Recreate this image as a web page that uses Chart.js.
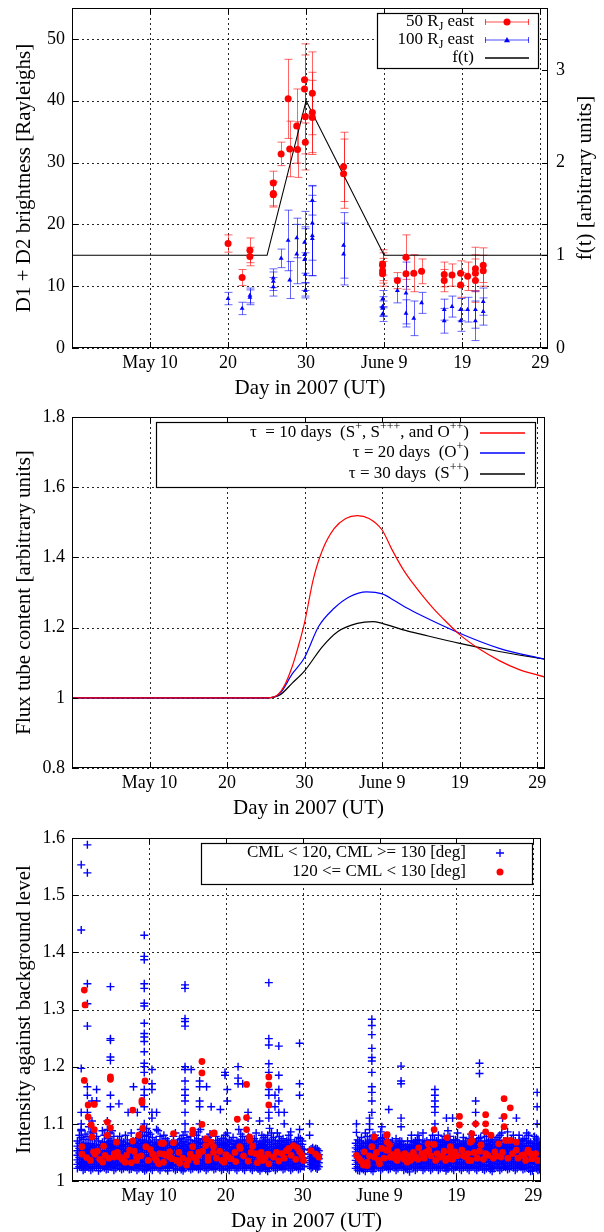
<!DOCTYPE html>
<html>
<head>
<meta charset="utf-8">
<script src="https://cdn.jsdelivr.net/npm/chart.js@4.4.1/dist/chart.umd.min.js"></script>
<style>
  body { margin: 0; background: #fff; }
  canvas { position: absolute; left: 0; }
</style>
</head>
<body>
<canvas id="c1" width="604" height="400" style="top:0px"></canvas>
<canvas id="c2" width="604" height="420" style="top:400px"></canvas>
<canvas id="c3" width="604" height="412" style="top:820px"></canvas>
<script>
// x axis: day of year 2007 (May 10 = 130)
const dayTicks = [130, 140, 150, 160, 170, 180];
const dayLabels = ['May 10', '20', '30', 'June 9', '19', '29'];

// ---- panel 1: D1 + D2 brightness ----
const red50X = [140.0, 141.8, 142.8, 142.8, 145.8, 145.8, 145.8, 146.8, 147.7, 147.9, 148.8, 148.9, 149.8, 149.8, 149.9, 149.9,
  150.8, 150.8, 150.8, 154.8, 154.8, 159.8, 159.8, 159.8, 159.8, 161.7, 162.8, 162.8, 163.8, 164.8, 167.7, 167.7, 168.7,
  169.8, 169.8, 170.7, 171.7, 171.7, 171.7, 172.7, 172.7];
const red50Y = [16.9, 11.4, 14.8, 15.8, 26.7, 25.0, 24.8, 31.4, 40.3, 32.2, 35.9, 32.1, 43.4, 41.9, 37.4, 33.3,
  41.2, 38.1, 37.3, 29.3, 28.2, 13.6, 13.4, 12.5, 12.0, 10.9, 14.7, 12.0, 12.1, 12.4, 11.9, 10.9, 11.8,
  12.1, 10.2, 11.6, 12.8, 12.1, 10.9, 13.4, 12.5];
const red50Err = [1.4, 1.3, 1.5, 2.0, 1.9, 2.0, 2.0, 1.9, 6.4, 4.5, 6.0, 4.5, 5.8, 5.5, 6.0, 4.5,
  6.7, 6.5, 6.0, 5.6, 5.6, 1.8, 2.5, 2.0, 2.0, 1.3, 3.6, 2.5, 3.0, 2.0, 2.0, 1.8, 1.8,
  2.0, 2.0, 2.3, 3.5, 3.0, 3.5, 2.8, 2.5];
const blue100X = [140.0, 141.8, 142.8, 142.8, 145.8, 145.8, 145.8, 146.8, 147.7, 147.9, 148.8, 148.8, 149.8, 149.8, 149.8, 149.9,
  149.9, 150.8, 150.8, 150.8, 150.8, 154.8, 154.8, 159.8, 159.8, 159.8, 159.8, 161.7, 162.8, 162.8, 163.8, 164.8, 167.7,
  167.7, 168.7, 169.8, 169.8, 170.7, 171.7, 171.7, 172.7, 172.7];
const blue100Y = [8.0, 6.4, 8.2, 8.5, 11.3, 10.8, 9.9, 14.5, 17.4, 11.0, 17.8, 15.2, 17.1, 15.1, 14.3, 11.9,
  9.3, 23.9, 20.2, 18.2, 17.7, 16.6, 15.2, 7.9, 6.7, 6.4, 5.5, 9.3, 8.9, 5.6, 4.8, 7.3, 6.2,
  4.4, 6.7, 6.2, 4.4, 6.2, 6.2, 4.4, 7.5, 5.9];
const blue100Err = [1.0, 1.0, 1.2, 1.2, 1.5, 1.5, 1.5, 1.5, 4.9, 3.0, 3.2, 4.8, 5.0, 4.5, 5.0, 3.5,
  1.2, 2.4, 6.0, 6.5, 6.0, 5.3, 5.0, 1.4, 1.6, 1.2, 1.2, 2.0, 5.0, 2.2, 2.8, 1.7, 1.7,
  2.0, 1.7, 1.8, 1.7, 2.0, 3.0, 3.2, 2.2, 2.2];
const fX = [120, 145, 150, 160, 181];
const fY = [1, 1, 2.667, 1, 1];
const brightTicks = [0, 10, 20, 30, 40, 50];
const fTicks = [0, 1, 2, 3];

// ---- panel 2: flux tube content ----
const tau10X = [120, 145.2, 146.5, 147.4, 148.4, 149.1, 150.0, 151.1, 152.3, 153.8, 155.3, 156.8, 158.3, 160.0, 161.2,
  162.7, 164.0, 165.2, 166.5, 167.7, 170.0, 172.6, 175.1, 177.6, 181];
const tau10Y = [1, 1, 1.008, 1.035, 1.089, 1.14, 1.215, 1.336, 1.421, 1.482, 1.511, 1.519, 1.511, 1.478, 1.425,
  1.366, 1.325, 1.291, 1.257, 1.229, 1.180, 1.138, 1.106, 1.081, 1.059];
const tau20X = [120, 145.2, 146.8, 148.4, 150.0, 151.8, 153.8, 155.8, 158.0, 160.0, 161.5, 163.0, 165.2, 170.0, 175.1, 181];
const tau20Y = [1, 1, 1.012, 1.068, 1.115, 1.203, 1.255, 1.288, 1.302, 1.296, 1.278, 1.258, 1.233, 1.184, 1.141, 1.110];
const tau30X = [120, 145.2, 146.8, 148.4, 150.0, 152.3, 154.3, 156.8, 158.8, 160.0, 161.5, 163.0, 165.2, 170.0, 175.1, 181];
const tau30Y = [1, 1, 1.008, 1.042, 1.077, 1.146, 1.189, 1.212, 1.217, 1.212, 1.202, 1.192, 1.180, 1.155, 1.132, 1.110];
const fluxTicks = [0.8, 1, 1.2, 1.4, 1.6, 1.8];

// ---- panel 3: intensity against background ----
// dense band readings: [day, values in thousandths above 1]
const blueBand = [
  [120.7, 22, 29, 37, 45, 53, 61, 70], [121.2, 24, 31, 38, 46, 54, 62, 76, 88], [121.7, 21, 28, 35, 43, 50, 58, 66, 82],
  [122.2, 23, 30, 37, 45, 53, 61, 72, 95], [122.7, 22, 29, 36, 44, 51, 59, 65, 84], [123.2, 25, 32, 39, 46, 54, 62, 78],
  [123.7, 22, 28, 35, 42, 49, 57, 64], [124.2, 23, 30, 38, 45, 53, 61, 68, 80], [124.7, 21, 29, 36, 43, 51, 58, 66, 74],
  [125.2, 24, 31, 38, 46, 53, 60, 70, 88], [125.7, 22, 30, 37, 44, 52, 59, 67], [126.2, 23, 29, 36, 43, 50, 58, 65, 78],
  [126.7, 22, 30, 37, 45, 52, 60, 68], [127.2, 24, 31, 38, 45, 53, 61, 72], [127.7, 21, 28, 36, 43, 51, 58, 66, 84],
  [128.2, 23, 30, 37, 44, 52, 59, 67], [128.7, 22, 29, 36, 44, 51, 59, 66, 76], [129.2, 21, 28, 35, 42, 50, 57, 65, 72, 86],
  [129.7, 20, 27, 34, 42, 50, 58, 66, 78, 92], [130.2, 22, 29, 37, 44, 52, 59, 67, 82], [130.7, 24, 31, 38, 45, 53, 60, 68],
  [131.2, 22, 30, 37, 44, 51, 59, 66, 88], [131.7, 23, 30, 38, 45, 53, 61, 70], [132.2, 22, 29, 36, 43, 51, 58, 65, 74],
  [132.7, 24, 31, 39, 46, 54, 62], [133.2, 22, 29, 37, 44, 52, 60, 68, 78], [133.7, 21, 28, 35, 43, 50, 58, 66],
  [134.2, 20, 27, 34, 42, 49, 57, 65, 74], [134.7, 22, 30, 37, 45, 52, 60, 68, 86], [135.2, 23, 30, 38, 45, 53, 61, 72],
  [135.7, 22, 29, 36, 44, 51, 59, 66], [136.2, 24, 31, 38, 46, 53, 61, 70, 80], [136.7, 22, 30, 37, 45, 52, 60, 67, 90],
  [137.2, 23, 30, 37, 44, 52, 59, 66], [137.7, 22, 29, 37, 44, 51, 59, 67, 76], [138.2, 24, 31, 38, 46, 53, 60],
  [138.7, 22, 30, 37, 44, 52, 59, 67, 78], [139.2, 23, 30, 38, 45, 53, 61, 68], [139.7, 21, 28, 36, 43, 51, 58, 66, 75],
  [140.2, 22, 30, 37, 45, 52, 60, 67, 84], [140.7, 24, 31, 38, 45, 53, 60, 70], [141.2, 22, 29, 37, 44, 52, 59, 66],
  [141.7, 23, 30, 38, 45, 53, 60, 68, 90], [142.2, 22, 29, 36, 44, 51, 59, 66, 78], [142.7, 24, 31, 39, 46, 53, 61, 72],
  [143.2, 22, 30, 37, 45, 52, 60, 67], [143.7, 23, 30, 37, 44, 52, 59, 74], [144.2, 21, 28, 35, 42, 50, 57, 64],
  [144.7, 22, 29, 37, 44, 52, 59, 66, 80], [145.2, 20, 27, 34, 42, 49, 57, 64, 72], [145.7, 22, 30, 37, 45, 52, 60, 68, 92],
  [146.2, 23, 30, 38, 45, 53, 61, 76], [146.7, 22, 29, 36, 44, 51, 59, 66, 84], [147.2, 24, 31, 38, 46, 53, 60, 70],
  [147.7, 22, 30, 37, 44, 52, 59, 67], [148.2, 23, 30, 38, 45, 53, 61, 68, 80], [148.7, 22, 29, 37, 44, 51, 59],
  [149.2, 24, 31, 38, 46, 53, 61, 69], [149.7, 22, 30, 37, 45, 52, 60, 74], [150.2, 25, 32, 40, 47, 55],
  [150.9, 26, 33, 40, 47, 54], [151.3, 24, 31, 38, 45, 52, 58], [151.7, 23, 30, 37, 44, 51, 57], [152.1, 25, 32, 39, 46, 53],
  [156.9, 22, 29, 36, 44, 51, 58, 66], [157.4, 18, 25, 32, 40, 47, 55, 62, 70], [157.9, 20, 27, 35, 42, 50, 57, 65],
  [158.4, 22, 29, 36, 44, 51, 59, 66, 78], [158.9, 20, 27, 34, 42, 49, 57, 64, 72], [159.4, 22, 30, 37, 45, 52, 60, 68, 80],
  [159.9, 23, 30, 38, 45, 53, 61, 70], [160.4, 22, 29, 36, 44, 51, 59, 66, 76], [160.9, 24, 31, 38, 46, 53, 60, 68],
  [161.4, 22, 30, 37, 44, 52, 59, 67], [161.9, 23, 30, 38, 45, 53, 61], [162.4, 22, 29, 37, 44, 51, 59, 66],
  [162.9, 24, 31, 38, 46, 53, 61, 69], [163.4, 22, 30, 37, 45, 52, 60], [163.9, 16, 23, 30, 37, 44, 52, 59],
  [164.4, 23, 30, 38, 45, 53, 60, 67], [164.9, 22, 29, 36, 44, 51, 59, 66, 72], [165.4, 24, 31, 38, 45, 53, 60],
  [165.9, 22, 30, 37, 45, 52, 60, 68], [166.4, 23, 30, 37, 44, 52, 59, 66], [166.9, 22, 29, 37, 44, 51, 59, 67, 80],
  [167.4, 24, 31, 38, 46, 53, 60, 70], [167.9, 22, 30, 37, 44, 52, 59, 67], [168.4, 23, 30, 38, 45, 53, 61, 68, 78],
  [168.9, 21, 28, 36, 43, 51, 58, 66, 88], [169.4, 22, 30, 37, 45, 52, 60, 67], [169.9, 24, 31, 38, 45, 53, 60, 72],
  [170.4, 22, 29, 37, 44, 52, 59, 66], [170.9, 23, 30, 38, 45, 53, 60, 68, 76], [171.4, 22, 29, 36, 44, 51, 59, 66],
  [171.9, 24, 31, 39, 46, 53, 61, 70, 82], [172.4, 22, 30, 37, 45, 52, 60, 67], [172.9, 23, 30, 37, 44, 52, 59, 66, 74],
  [173.4, 21, 28, 35, 42, 50, 57, 64], [173.9, 22, 29, 37, 44, 52, 59, 66, 78], [174.4, 20, 27, 34, 42, 49, 57, 64, 72],
  [174.9, 22, 30, 37, 45, 52, 60, 68], [175.4, 23, 30, 38, 45, 53, 61, 76], [175.9, 22, 29, 36, 44, 51, 59, 66, 84],
  [176.4, 24, 31, 38, 46, 53, 60, 70], [176.9, 22, 30, 37, 44, 52, 59, 67], [177.4, 23, 30, 38, 45, 53, 61, 68, 80],
  [177.9, 22, 29, 37, 44, 51, 59, 66], [178.4, 24, 31, 38, 46, 53, 61, 69], [178.9, 22, 30, 37, 45, 52, 60, 74],
  [179.4, 21, 28, 35, 43, 50, 58, 66, 80], [179.9, 18, 25, 32, 40, 47, 55, 62], [180.4, 22, 29, 36, 44, 51, 59, 66, 75],
  [180.8, 20, 27, 34, 42, 49, 57, 64]
];
// readings between the columns above
const blueBand2 = [
  [120.95, 25, 33, 41, 49, 57, 66, 80], [121.45, 19, 27, 34, 41, 49, 56, 63, 73], [121.95, 25, 32, 40, 47, 55, 63, 78],
  [122.45, 19, 26, 34, 41, 48, 56, 65, 86], [122.95, 25, 33, 40, 47, 55, 62, 74], [123.45, 18, 28, 35, 43, 50, 58, 70],
  [123.95, 25, 32, 39, 46, 53, 61, 68, 88], [124.45, 20, 27, 34, 42, 49, 57, 64], [124.95, 25, 32, 40, 47, 54, 62, 70, 84],
  [125.45, 19, 27, 35, 42, 49, 56, 64, 78], [125.95, 26, 33, 41, 48, 56, 63, 72], [126.45, 20, 27, 34, 41, 48, 55, 62, 70],
  [126.95, 25, 33, 40, 48, 56, 64, 80], [127.45, 20, 27, 35, 42, 49, 57, 65], [127.95, 24, 32, 39, 47, 54, 62, 70],
  [128.45, 19, 27, 34, 41, 48, 56, 63, 74], [128.95, 25, 33, 40, 47, 55, 62, 70, 90], [129.45, 18, 25, 32, 39, 46, 54, 61, 68, 80],
  [129.95, 24, 31, 38, 46, 54, 62, 70, 85], [130.45, 19, 26, 33, 41, 48, 56, 63, 76], [130.95, 26, 34, 41, 49, 56, 64, 72],
  [131.45, 19, 26, 34, 41, 48, 55, 63, 78], [131.95, 26, 34, 41, 49, 57, 66, 80], [132.45, 18, 25, 33, 40, 47, 54, 62, 70],
  [132.95, 27, 35, 42, 50, 58, 66], [133.45, 19, 26, 33, 40, 48, 56, 64, 84], [133.95, 25, 32, 39, 46, 54, 62, 72],
  [134.45, 18, 24, 31, 38, 46, 53, 61, 69, 80], [134.95, 26, 33, 41, 48, 56, 64, 76], [135.45, 20, 27, 34, 42, 49, 57, 65, 78],
  [135.95, 25, 33, 40, 48, 55, 62, 70], [136.45, 20, 27, 35, 42, 50, 57, 65, 74, 86], [136.95, 26, 33, 41, 48, 56, 64, 72],
  [137.45, 19, 26, 34, 41, 48, 56, 63, 70], [137.95, 25, 33, 40, 48, 55, 63, 72, 82], [138.45, 20, 28, 35, 42, 50, 57, 64],
  [138.95, 26, 33, 41, 48, 55, 63, 71], [139.45, 19, 26, 34, 42, 49, 57, 64, 74], [139.95, 25, 32, 39, 47, 54, 62, 70, 80],
  [140.45, 19, 26, 33, 41, 48, 56, 64, 72], [140.95, 27, 34, 42, 49, 56, 64, 76], [141.45, 19, 26, 33, 40, 48, 55, 62, 70],
  [141.95, 26, 34, 41, 49, 56, 64, 72, 82], [142.45, 19, 26, 33, 40, 48, 55, 62, 70], [142.95, 27, 35, 42, 50, 57, 65, 78],
  [143.45, 19, 26, 34, 41, 48, 56, 63, 70], [143.95, 26, 33, 41, 48, 55, 63, 70, 84], [144.45, 18, 25, 32, 39, 46, 53, 60, 68],
  [144.95, 25, 33, 40, 48, 55, 62, 70, 76], [145.45, 17, 24, 31, 38, 45, 53, 60, 68, 80], [145.95, 26, 34, 41, 48, 56, 64, 72, 84],
  [146.45, 19, 27, 34, 42, 49, 57, 65, 70], [146.95, 25, 33, 40, 47, 55, 62, 70, 78], [147.45, 20, 27, 35, 42, 50, 57, 64, 74],
  [147.95, 26, 33, 41, 48, 55, 63, 71], [148.45, 19, 27, 34, 42, 49, 57, 64, 72, 86], [148.95, 25, 33, 40, 48, 55, 62, 68],
  [149.45, 20, 28, 35, 42, 50, 57, 65, 76], [149.95, 26, 33, 41, 48, 56, 64, 70],
  [151.1, 22, 29, 36, 43, 50, 56], [151.5, 27, 34, 41, 48, 55], [151.9, 21, 28, 35, 42, 49, 56],
  [157.15, 19, 25, 33, 40, 47, 55, 62, 72], [157.65, 22, 29, 36, 44, 51, 59, 66, 76], [158.15, 17, 24, 31, 38, 46, 53, 61, 68, 84],
  [158.65, 25, 32, 40, 47, 55, 62, 70], [159.15, 17, 24, 31, 38, 45, 53, 60, 68, 80], [159.65, 26, 33, 41, 48, 56, 64, 72],
  [160.15, 19, 26, 34, 41, 49, 56, 64, 74, 86], [160.65, 25, 33, 40, 47, 55, 62, 70], [161.15, 20, 27, 34, 42, 49, 57, 64, 72],
  [161.65, 26, 33, 41, 48, 56, 63, 70], [162.15, 19, 26, 33, 41, 48, 55, 62, 74], [162.65, 26, 33, 40, 48, 55, 63, 70],
  [163.15, 19, 26, 34, 41, 49, 56, 64], [163.65, 20, 27, 34, 41, 48, 56, 63, 70], [164.15, 26, 33, 41, 48, 56, 63, 70, 80],
  [164.65, 19, 26, 33, 40, 48, 55, 62, 70], [165.15, 26, 34, 41, 49, 56, 64, 72], [165.65, 19, 26, 34, 41, 48, 56, 63, 70, 84],
  [166.15, 26, 33, 41, 48, 55, 62, 70], [166.65, 19, 26, 33, 41, 48, 55, 63, 72], [167.15, 26, 34, 41, 49, 56, 64, 72],
  [167.65, 19, 26, 33, 41, 48, 55, 63, 70, 80], [168.15, 26, 34, 41, 49, 56, 64, 72], [168.65, 18, 25, 32, 40, 47, 54, 62, 70],
  [169.15, 26, 33, 41, 48, 56, 63, 70, 78], [169.65, 19, 26, 34, 41, 49, 56, 64, 72], [170.15, 26, 33, 40, 48, 55, 62, 70, 84],
  [170.65, 19, 26, 33, 41, 48, 56, 64], [171.15, 25, 33, 40, 47, 55, 62, 70], [171.65, 19, 27, 34, 42, 49, 57, 65, 74],
  [172.15, 26, 33, 41, 48, 56, 63, 72, 80], [172.65, 19, 26, 33, 41, 48, 55, 62, 70], [173.15, 25, 32, 39, 46, 53, 61, 68, 76],
  [173.65, 19, 26, 33, 40, 47, 54, 61, 70, 84], [174.15, 25, 33, 40, 48, 55, 62, 70], [174.65, 17, 24, 31, 38, 46, 53, 60, 68, 76],
  [175.15, 26, 34, 41, 49, 56, 64, 72], [175.65, 19, 26, 34, 41, 49, 57, 65, 70, 80], [176.15, 25, 33, 40, 47, 55, 62, 70],
  [176.65, 20, 27, 35, 42, 49, 57, 64, 74, 86], [177.15, 26, 33, 41, 48, 56, 63, 72], [177.65, 19, 26, 34, 41, 49, 57, 64, 70],
  [178.15, 26, 33, 41, 48, 55, 63, 71, 80], [178.65, 20, 27, 35, 42, 50, 57, 65, 72], [179.15, 24, 32, 39, 46, 54, 62, 70, 84],
  [179.65, 17, 24, 31, 38, 46, 53, 60, 68], [180.15, 25, 32, 40, 47, 55, 62, 70, 78], [180.6, 19, 26, 33, 41, 48, 55, 62, 72]
];
// higher readings: [day, values...]
const blueSpike = [
  [121.2, 1.553, 1.439, 1.197, 1.12, 1.10, 1.09], [122.0, 1.588, 1.539, 1.345, 1.310, 1.271, 1.165, 1.15, 1.12],
  [122.6, 1.14, 1.105], [123.2, 1.16, 1.14], [124.6, 1.105, 1.09], [125.0, 1.340, 1.249, 1.246, 1.217, 1.211, 1.15, 1.13],
  [126.1, 1.135], [127.3, 1.12], [128.0, 1.165], [128.5, 1.12],
  [129.4, 1.430, 1.393, 1.387, 1.345, 1.337, 1.311, 1.306, 1.276, 1.258, 1.252, 1.244, 1.226, 1.206, 1.2, 1.19, 1.16, 1.15, 1.13, 1.10],
  [130.4, 1.195, 1.17, 1.16, 1.12, 1.11], [131.0, 1.12, 1.09],
  [134.7, 1.343, 1.337, 1.284, 1.279, 1.271, 1.2, 1.195, 1.175, 1.16, 1.15, 1.14, 1.12, 1.10],
  [135.5, 1.195], [136.6, 1.175, 1.165, 1.14, 1.13, 1.10], [137.5, 1.165], [138.1, 1.13], [139.3, 1.125],
  [139.9, 1.19, 1.185], [140.2, 1.16, 1.14], [141.6, 1.2, 1.18, 1.17], [142.2, 1.17], [142.9, 1.12, 1.11], [144.4, 1.105],
  [145.6, 1.347, 1.249, 1.238, 1.205, 1.19, 1.16, 1.15, 1.12, 1.11], [146.4, 1.15, 1.13],
  [146.9, 1.236, 1.185, 1.16, 1.14, 1.12], [147.6, 1.12, 1.10], [149.6, 1.241, 1.17, 1.15, 1.09], [150.9, 1.10, 1.08],
  [157.0, 1.10, 1.085], [158.7, 1.11, 1.10, 1.09],
  [159.0, 1.283, 1.272, 1.256, 1.232, 1.216, 1.21, 1.19, 1.165, 1.155, 1.14, 1.12],
  [160.3, 1.095], [161.2, 1.125], [162.8, 1.201, 1.175, 1.17, 1.11, 1.095], [165.0, 1.08],
  [167.2, 1.16, 1.15, 1.14, 1.13, 1.12, 1.10], [168.7, 1.11], [169.5, 1.11], [172.5, 1.14, 1.12, 1.10],
  [173.0, 1.206, 1.188], [176.0, 1.11], [177.8, 1.11], [180.5, 1.155, 1.13, 1.10]
];
// 120 <= CML < 130: [day, value]
const redPts = [
  [121.3, 1.060], [121.3, 1.047], [121.6, 1.334], [121.7, 1.308], [121.6, 1.176], [122.1, 1.133], [122.1, 1.112], [122.5, 1.098],
  [122.6, 1.077], [122.8, 1.051], [122.9, 1.134], [122.9, 1.090], [123.0, 1.047], [123.6, 1.038], [124.1, 1.061], [124.3, 1.045],
  [124.6, 1.103], [124.6, 1.080], [125.0, 1.093], [125.0, 1.182], [125.0, 1.178], [125.5, 1.048], [125.5, 1.042], [125.8, 1.068],
  [126.2, 1.042], [126.9, 1.033], [127.5, 1.054], [127.9, 1.124], [127.9, 1.070], [128.4, 1.042], [128.4, 1.036], [128.7, 1.080],
  [129.1, 1.141], [129.1, 1.137], [129.2, 1.092], [129.5, 1.175], [129.6, 1.060], [130.5, 1.047], [131.0, 1.036], [131.4, 1.048],
  [131.6, 1.066], [131.9, 1.066], [131.9, 1.047], [131.9, 1.033], [132.7, 1.051], [132.7, 1.042], [133.2, 1.083], [133.2, 1.067],
  [133.6, 1.036], [134.0, 1.031], [135.1, 1.036], [135.4, 1.047], [135.7, 1.089], [135.7, 1.083], [135.7, 1.060], [136.5, 1.050],
  [136.5, 1.045], [136.9, 1.209], [136.9, 1.189], [136.9, 1.099], [137.4, 1.074], [137.4, 1.062], [137.7, 1.042], [137.7, 1.036],
  [138.1, 1.068], [138.3, 1.083], [138.5, 1.084], [138.4, 1.060], [138.4, 1.050], [139.8, 1.033], [140.3, 1.042], [140.7, 1.039],
  [141.5, 1.108], [141.8, 1.060], [141.9, 1.057], [142.7, 1.169], [142.7, 1.111], [142.7, 1.090], [143.1, 1.077], [143.1, 1.071],
  [143.5, 1.061], [143.9, 1.048], [144.4, 1.042], [144.8, 1.036], [145.6, 1.182], [145.6, 1.168], [145.6, 1.133], [145.5, 1.047],
  [145.6, 1.030], [146.2, 1.042], [147.3, 1.048], [148.2, 1.057], [148.8, 1.062], [149.6, 1.051], [150.1, 1.036],
  [121.9, 1.041], [122.4, 1.036], [123.3, 1.052], [124.0, 1.033], [124.8, 1.040], [125.9, 1.050], [126.5, 1.038], [127.1, 1.045],
  [127.7, 1.032], [128.1, 1.052], [129.0, 1.044], [129.9, 1.036], [130.2, 1.055], [130.8, 1.040], [131.3, 1.030], [132.2, 1.045],
  [133.0, 1.039], [133.9, 1.050], [134.4, 1.040], [134.9, 1.028], [135.9, 1.041], [136.2, 1.034], [137.0, 1.052], [138.8, 1.040],
  [139.2, 1.052], [139.5, 1.036], [140.0, 1.046], [141.2, 1.050], [141.3, 1.034], [142.3, 1.044], [142.9, 1.035], [143.3, 1.050],
  [144.1, 1.032], [144.6, 1.050], [145.1, 1.040], [146.6, 1.050], [146.9, 1.035], [147.6, 1.040], [147.9, 1.053], [148.5, 1.045],
  [149.1, 1.038], [149.3, 1.058], [149.9, 1.045],
  [151.1, 1.053], [151.7, 1.047], [152.1, 1.042],
  [157.3, 1.040], [157.6, 1.035], [157.9, 1.028], [158.0, 1.051], [158.4, 1.033], [158.4, 1.027], [159.0, 1.060], [159.3, 1.077],
  [159.3, 1.042], [159.9, 1.036], [160.3, 1.057], [160.9, 1.080], [160.9, 1.054], [161.0, 1.081], [161.0, 1.068], [161.3, 1.063],
  [161.1, 1.054], [161.4, 1.042], [162.3, 1.051], [162.3, 1.036], [162.9, 1.042], [163.6, 1.033], [164.0, 1.036], [164.7, 1.042],
  [165.1, 1.058], [165.5, 1.048], [166.3, 1.065], [166.4, 1.054], [167.1, 1.090], [167.1, 1.064], [167.5, 1.048], [167.9, 1.042],
  [168.6, 1.036], [168.8, 1.076], [169.2, 1.060], [169.2, 1.051], [169.7, 1.045], [169.8, 1.051], [170.4, 1.113], [170.4, 1.098],
  [170.7, 1.054], [171.2, 1.042], [171.5, 1.048], [171.8, 1.068], [171.9, 1.036], [172.0, 1.071], [172.0, 1.083], [172.5, 1.100],
  [173.2, 1.063], [173.8, 1.116], [173.8, 1.100], [173.8, 1.086], [173.8, 1.048], [174.5, 1.080], [175.0, 1.051], [175.5, 1.065],
  [175.8, 1.042], [176.2, 1.144], [176.2, 1.113], [176.2, 1.095], [176.4, 1.071], [177.0, 1.128], [177.0, 1.071], [177.8, 1.068],
  [177.8, 1.054], [178.5, 1.045], [179.3, 1.054], [179.8, 1.039], [180.3, 1.048], [180.6, 1.036],
  [157.0, 1.045], [158.7, 1.044], [159.6, 1.050], [160.0, 1.030], [160.6, 1.040], [161.7, 1.046], [162.0, 1.040], [162.6, 1.045],
  [163.2, 1.038], [163.3, 1.048], [163.9, 1.044], [164.3, 1.040], [164.4, 1.050], [165.0, 1.038], [165.8, 1.040], [166.0, 1.050],
  [166.7, 1.044], [167.3, 1.036], [168.2, 1.044], [168.4, 1.052], [169.0, 1.040], [169.5, 1.038], [170.1, 1.044], [170.9, 1.044],
  [171.6, 1.036], [172.3, 1.050], [172.7, 1.040], [173.0, 1.052], [173.5, 1.038], [174.1, 1.045], [174.8, 1.040], [175.2, 1.044],
  [176.0, 1.050], [176.7, 1.040], [177.3, 1.048], [178.0, 1.040], [178.8, 1.046], [179.0, 1.036], [179.6, 1.048], [180.1, 1.040]
];
const intTicks = [1, 1.1, 1.2, 1.3, 1.4, 1.5, 1.6];

const FONT = 'Liberation Serif';
const CSSFONT = '"Liberation Serif", serif';

function pts(xs, ys) { return xs.map((x, i) => ({ x: x, y: ys[i] })); }

function xAxis(h, titlePad) {
  return {
    type: 'linear', min: 120, max: 181,
    grid: { display: false, drawTicks: false }, border: { display: false },
    afterBuildTicks: s => { s.ticks = dayTicks.map(v => ({ value: v })); },
    ticks: {
      callback: v => dayLabels[dayTicks.indexOf(v)],
      font: { family: FONT, size: 18 }, color: '#000', padding: 4, maxRotation: 0, autoSkip: false
    },
    title: { display: true, text: 'Day in 2007 (UT)', color: '#000',
      font: { family: FONT, size: 21, lineHeight: 1 }, padding: { top: 0, bottom: titlePad } },
    afterFit: s => { s.height = h; s.paddingLeft = 0; s.paddingRight = 0; }
  };
}

function yAxis(min, max, tickVals, title, position, w) {
  return {
    type: 'linear', min: min, max: max, position: position,
    grid: { display: false, drawTicks: false }, border: { display: false },
    afterBuildTicks: s => { s.ticks = tickVals.map(v => ({ value: v })); },
    ticks: { callback: v => String(v), font: { family: FONT, size: 18 }, color: '#000',
      padding: position === 'left' ? 7 : 8, autoSkip: false },
    title: { display: !!title, text: title, color: '#000',
      font: { family: FONT, size: 21, lineHeight: 1 }, padding: { top: 13.5, bottom: 0 } },
    afterFit: s => { s.width = w; s.paddingTop = 0; s.paddingBottom = 0; }
  };
}

function richText(ctx, parts, xr, y, size) {
  const big = size + 'px ' + CSSFONT;
  const small = Math.round(size * 0.68) + 'px ' + CSSFONT;
  let w = 0;
  parts.forEach(p => { ctx.font = p[1] ? small : big; w += ctx.measureText(p[0]).width; });
  let x = xr - w;
  ctx.textAlign = 'left';
  ctx.textBaseline = 'middle';
  ctx.fillStyle = '#000';
  parts.forEach(p => {
    ctx.font = p[1] ? small : big;
    const dy = p[1] === 1 ? -size * 0.36 : (p[1] === -1 ? size * 0.3 : 0);
    ctx.fillText(p[0], x, y + dy);
    x += ctx.measureText(p[0]).width;
  });
}

function drawMarker(ctx, m, x, y, color) {
  ctx.fillStyle = color; ctx.strokeStyle = color;
  if (m === 'circle') {
    ctx.beginPath(); ctx.arc(x, y, 3.5, 0, Math.PI * 2); ctx.fill();
  } else if (m === 'triangle') {
    ctx.beginPath(); ctx.moveTo(x, y - 3); ctx.lineTo(x + 3, y + 2.2); ctx.lineTo(x - 3, y + 2.2); ctx.closePath(); ctx.fill();
  } else if (m === 'cross') {
    ctx.lineWidth = 1.3;
    ctx.beginPath(); ctx.moveTo(x - 4, y); ctx.lineTo(x + 4, y); ctx.moveTo(x, y - 4); ctx.lineTo(x, y + 4); ctx.stroke();
  }
}

function drawSample(ctx, s, x1, x2, y) {
  ctx.save();
  ctx.setLineDash([]);
  if (s.type === 'line') {
    ctx.strokeStyle = s.color; ctx.lineWidth = 1.3;
    ctx.beginPath(); ctx.moveTo(x1, y); ctx.lineTo(x2, y); ctx.stroke();
  } else if (s.type === 'err') {
    ctx.strokeStyle = s.color; ctx.lineWidth = 1;
    ctx.beginPath();
    ctx.moveTo(x1, y); ctx.lineTo(x2, y);
    ctx.moveTo(x1 + 0.5, y - 3); ctx.lineTo(x1 + 0.5, y + 3);
    ctx.moveTo(x2 - 0.5, y - 3); ctx.lineTo(x2 - 0.5, y + 3);
    ctx.stroke();
    drawMarker(ctx, s.marker, (x1 + x2) / 2, y, s.fill);
  } else {
    drawMarker(ctx, s.marker, s.x, y, s.fill);
  }
  ctx.restore();
}

function framePlugin(opts) {
  return {
    id: 'frame',
    beforeDatasetsDraw(chart) {
      const ctx = chart.ctx, a = chart.chartArea, sx = chart.scales.x, sy = chart.scales.y;
      ctx.save();
      ctx.strokeStyle = 'rgba(0,0,0,0.85)';
      ctx.lineWidth = 1;
      ctx.setLineDash([2, 3]);
      ctx.beginPath();
      dayTicks.forEach(v => {
        const px = Math.round(sx.getPixelForValue(v)) + 0.5;
        ctx.moveTo(px, a.top); ctx.lineTo(px, a.bottom);
      });
      opts.yTicks.forEach(v => {
        const py = Math.round(sy.getPixelForValue(v)) + 0.5;
        ctx.moveTo(a.left, py); ctx.lineTo(a.right, py);
      });
      ctx.stroke();
      ctx.setLineDash([]);
      // error bars
      chart.data.datasets.forEach(ds => {
        if (!ds.err) return;
        const ys = chart.scales[ds.yAxisID || 'y'];
        ctx.strokeStyle = ds.errColor;
        ctx.lineWidth = 1;
        ctx.beginPath();
        ds.data.forEach((p, j) => {
          const px = Math.round(sx.getPixelForValue(p.x)) + 0.5;
          const top = ys.getPixelForValue(p.y + ds.err[j]);
          const bot = ys.getPixelForValue(p.y - ds.err[j]);
          ctx.moveTo(px, top); ctx.lineTo(px, bot);
          ctx.moveTo(px - 4, top); ctx.lineTo(px + 4, top);
          ctx.moveTo(px - 4, bot); ctx.lineTo(px + 4, bot);
        });
        ctx.stroke();
      });
      ctx.restore();
    },
    afterDatasetsDraw(chart) {
      const ctx = chart.ctx, a = chart.chartArea, sx = chart.scales.x, sy = chart.scales.y;
      ctx.save();
      ctx.setLineDash([]);
      ctx.strokeStyle = '#000';
      ctx.lineWidth = 1;
      ctx.strokeRect(a.left + 0.5, a.top + 0.5, a.right - a.left - 1, a.bottom - a.top - 1);
      ctx.beginPath();
      dayTicks.forEach(v => {
        const px = Math.round(sx.getPixelForValue(v)) + 0.5;
        ctx.moveTo(px, a.bottom); ctx.lineTo(px, a.bottom - 6);
        ctx.moveTo(px, a.top); ctx.lineTo(px, a.top + 6);
      });
      opts.yTicks.forEach(v => {
        const py = Math.round(sy.getPixelForValue(v)) + 0.5;
        ctx.moveTo(a.left, py); ctx.lineTo(a.left + 6, py);
        ctx.moveTo(a.right, py); ctx.lineTo(a.right - 6, py);
      });
      if (opts.rightTicks) {
        const s2 = chart.scales[opts.rightTicks.id];
        opts.rightTicks.values.forEach(v => {
          const py = Math.round(s2.getPixelForValue(v)) + 0.5;
          ctx.moveTo(a.right, py); ctx.lineTo(a.right - 6, py);
        });
      }
      ctx.stroke();
      // key box
      const L = opts.legend;
      ctx.fillStyle = '#fff';
      ctx.fillRect(L.box[0], L.box[1], L.box[2] - L.box[0], L.box[3] - L.box[1]);
      ctx.strokeStyle = '#000';
      ctx.lineWidth = 1.2;
      ctx.strokeRect(L.box[0] + 0.5, L.box[1] + 0.5, L.box[2] - L.box[0], L.box[3] - L.box[1]);
      L.rows.forEach(r => {
        richText(ctx, r.parts, L.textRight, r.y, 17);
        drawSample(ctx, r.sample, L.s1, L.s2, r.y);
      });
      if (opts.rightTitle) {
        ctx.translate(opts.rightTitle.x, (a.top + a.bottom) / 2);
        ctx.rotate(-Math.PI / 2);
        ctx.font = '21px ' + CSSFONT;
        ctx.fillStyle = '#000';
        ctx.textAlign = 'center';
        ctx.textBaseline = 'middle';
        ctx.fillText(opts.rightTitle.text, 0, 0);
      }
      ctx.restore();
    }
  };
}

const baseOpts = {
  responsive: false, animation: false, devicePixelRatio: 1, events: [],
  plugins: { legend: { display: false }, tooltip: { enabled: false } }
};

// ---- chart 1 ----
new Chart(document.getElementById('c1'), {
  type: 'scatter',
  data: {
    datasets: [
      { label: '50 RJ east', data: pts(red50X, red50Y), err: red50Err, errColor: 'rgba(255,0,0,0.6)',
        pointStyle: 'circle', pointRadius: 3.5, backgroundColor: '#ff0000', borderWidth: 0, yAxisID: 'y' },
      { label: '100 RJ east', data: pts(blue100X, blue100Y), err: blue100Err, errColor: 'rgba(0,0,255,0.6)',
        pointStyle: 'triangle', pointRadius: 2.8, backgroundColor: '#0000ff', borderWidth: 0, yAxisID: 'y' },
      { label: 'f(t)', data: pts(fX, fY), showLine: true, borderColor: '#000', borderWidth: 1.1,
        pointRadius: 0, yAxisID: 'y2' }
    ]
  },
  options: Object.assign({}, baseOpts, {
    layout: { padding: { top: 8, right: 0, left: 0, bottom: 0 } },
    scales: {
      x: xAxis(52, 1.5),
      y: yAxis(0, 55, brightTicks, 'D1 + D2 brightness [Rayleighs]', 'left', 72),
      y2: yAxis(0, 55 / 15, fTicks, '', 'right', 56)
    }
  }),
  plugins: [framePlugin({
    yTicks: brightTicks,
    rightTicks: { id: 'y2', values: fTicks },
    rightTitle: { x: 585, text: 'f(t) [arbitrary units]' },
    legend: {
      box: [377, 13, 538, 68], textRight: 474, s1: 485, s2: 529,
      rows: [
        { y: 22, parts: [['50 R', 0], ['J', -1], [' east', 0]], sample: { type: 'err', color: 'rgba(255,0,0,0.7)', marker: 'circle', fill: '#ff0000' } },
        { y: 40, parts: [['100 R', 0], ['J', -1], [' east', 0]], sample: { type: 'err', color: 'rgba(0,0,255,0.7)', marker: 'triangle', fill: '#0000ff' } },
        { y: 58, parts: [['f(t)', 0]], sample: { type: 'line', color: '#000' } }
      ]
    }
  })]
});

// ---- chart 2 ----
const curveStyle = { showLine: true, pointRadius: 0, borderWidth: 1.2, cubicInterpolationMode: 'monotone' };
new Chart(document.getElementById('c2'), {
  type: 'scatter',
  data: {
    datasets: [
      Object.assign({ label: 'tau 10', data: pts(tau10X, tau10Y), borderColor: '#ff0000' }, curveStyle),
      Object.assign({ label: 'tau 20', data: pts(tau20X, tau20Y), borderColor: '#0000ff' }, curveStyle),
      Object.assign({ label: 'tau 30', data: pts(tau30X, tau30Y), borderColor: '#000000' }, curveStyle)
    ]
  },
  options: Object.assign({}, baseOpts, {
    layout: { padding: { top: 17, right: 59, left: 0, bottom: 0 } },
    scales: {
      x: xAxis(52, 1.5),
      y: yAxis(0.8, 1.8, fluxTicks, 'Flux tube content [arbitrary units]', 'left', 72)
    }
  }),
  plugins: [framePlugin({
    yTicks: fluxTicks,
    legend: {
      box: [156, 22, 535, 87], textRight: 469, s1: 480, s2: 525,
      rows: [
        { y: 33, parts: [['\u03c4  = 10 days  (S', 0], ['+', 1], [', S', 0], ['+++', 1], [', and O', 0], ['++', 1], [')', 0]],
          sample: { type: 'line', color: '#ff0000' } },
        { y: 53, parts: [['\u03c4 = 20 days  (O', 0], ['+', 1], [')', 0]], sample: { type: 'line', color: '#0000ff' } },
        { y: 74, parts: [['\u03c4 = 30 days  (S', 0], ['++', 1], [')', 0]], sample: { type: 'line', color: '#000000' } }
      ]
    }
  })]
});

// ---- chart 3 ----
const bluePts = [];
blueBand.concat(blueBand2).forEach(c => c.slice(1).forEach(v => bluePts.push({ x: c[0], y: 1 + v / 1000 })));
blueSpike.forEach(c => c.slice(1).forEach(v => bluePts.push({ x: c[0], y: v })));

new Chart(document.getElementById('c3'), {
  type: 'scatter',
  data: {
    datasets: [
      { label: '120 <= CML < 130 [deg]', data: redPts.map(p => ({ x: p[0], y: p[1] })),
        pointStyle: 'circle', pointRadius: 3.4, backgroundColor: '#ff0000', borderWidth: 0 },
      { label: 'CML < 120, CML >= 130 [deg]', data: bluePts,
        pointStyle: 'cross', pointRadius: 4, borderColor: '#0000ff', borderWidth: 1.4 }
    ]
  },
  options: Object.assign({}, baseOpts, {
    layout: { padding: { top: 18, right: 63, left: 0, bottom: 0 } },
    scales: {
      x: xAxis(51, 0),
      y: yAxis(1, 1.6, intTicks, 'Intensity against background level', 'left', 72)
    }
  }),
  plugins: [framePlugin({
    yTicks: intTicks,
    legend: {
      box: [201, 23, 532, 64], textRight: 466, s1: 0, s2: 0,
      rows: [
        { y: 33, parts: [['CML < 120, CML >= 130 [deg]', 0]], sample: { type: 'marker', marker: 'cross', fill: '#0000ff', x: 500 } },
        { y: 52, parts: [['120 <= CML < 130 [deg]', 0]], sample: { type: 'marker', marker: 'circle', fill: '#ff0000', x: 500 } }
      ]
    }
  })]
});
</script>
</body>
</html>
